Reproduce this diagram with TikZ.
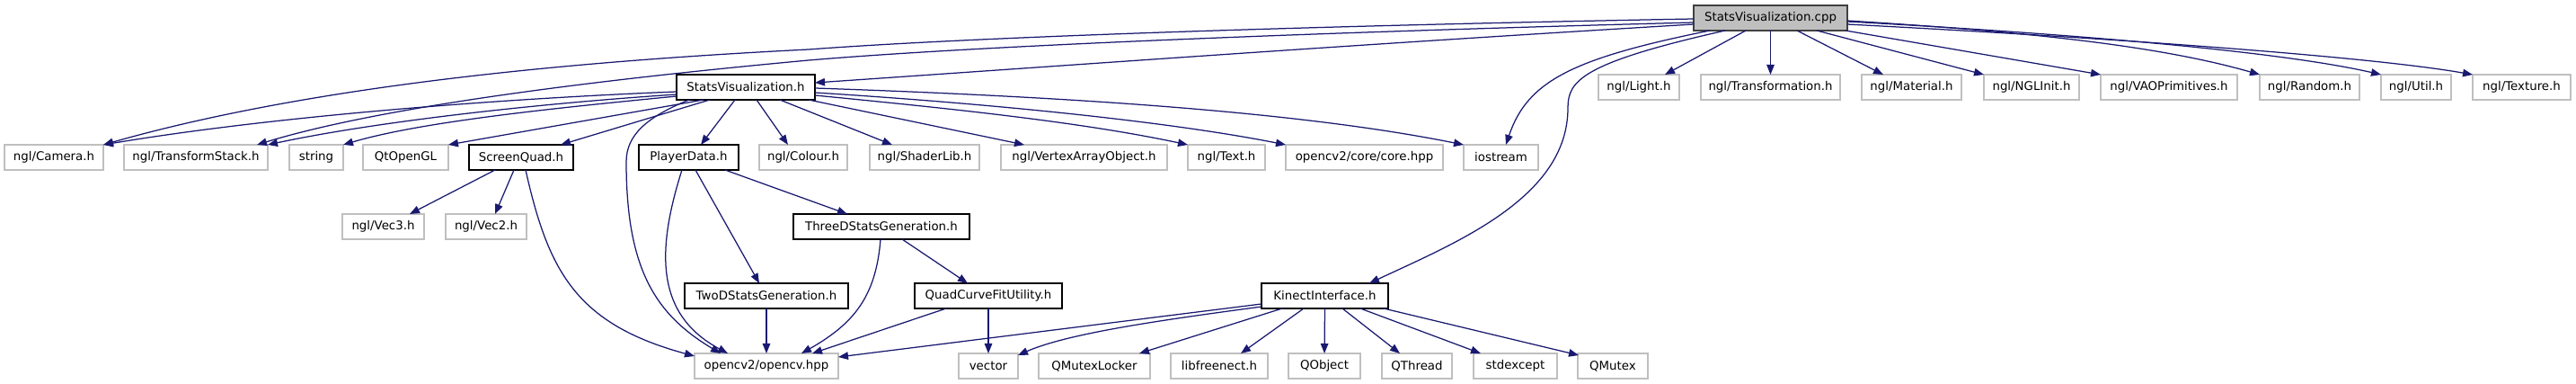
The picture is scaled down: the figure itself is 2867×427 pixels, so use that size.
\documentclass[tikz,border=0pt]{standalone}
\usepackage{fontspec}
\setmainfont{DejaVu Sans}
\usetikzlibrary{arrows.meta,calc}
\definecolor{edgeblue}{HTML}{191970}
\definecolor{extgray}{HTML}{BFBFBF}
\definecolor{cppfill}{HTML}{BFBFBF}
\definecolor{cppborder}{HTML}{404040}
\begin{document}
\begin{tikzpicture}[x=1pt,y=-1pt,
  box/.style={draw=black,line width=1.3pt,fill=white,minimum height=28pt,inner sep=0pt,outer sep=0pt,font=\fontsize{13.35}{16}\selectfont},
  extbox/.style={box,draw=extgray,line width=1.1pt},
  rootbox/.style={box,fill=cppfill,draw=cppborder},
  dep/.style={draw=edgeblue,line width=1.25pt,-{Triangle[length=11pt,width=8.5pt]}}]
\useasboundingbox (0,0) rectangle (2867,427);
% row 0
\node[rootbox,minimum width=171pt] (cpp) at (1970.5,20) {StatsVisualization.cpp};
% row 1
\node[box,minimum width=154pt] (svh) at (830,97) {StatsVisualization.h};
\node[extbox,minimum width=90pt] (light) at (1824,97) {ngl/Light.h};
\node[extbox,minimum width=155pt] (transf) at (1970.5,97) {ngl/Transformation.h};
\node[extbox,minimum width=111pt] (material) at (2127.5,97) {ngl/Material.h};
\node[extbox,minimum width=106pt] (nglinit) at (2261,97) {ngl/NGLInit.h};
\node[extbox,minimum width=152pt] (vaoprim) at (2414,97) {ngl/VAOPrimitives.h};
\node[extbox,minimum width=111pt] (random) at (2570.5,97) {ngl/Random.h};
\node[extbox,minimum width=78pt] (util) at (2689,97) {ngl/Util.h};
\node[extbox,minimum width=109pt] (texture) at (2806.5,97) {ngl/Texture.h};
% row 2
\node[extbox,minimum width=110pt] (camera) at (60,175) {ngl/Camera.h};
\node[extbox,minimum width=160pt] (tstack) at (218,175) {ngl/TransformStack.h};
\node[extbox,minimum width=60pt] (string) at (352,175) {string};
\node[extbox,minimum width=95pt] (qtopengl) at (451.5,175) {QtOpenGL};
\node[box,minimum width=116pt] (screenquad) at (580,175) {ScreenQuad.h};
\node[box,minimum width=111pt] (playerdata) at (766.5,175) {PlayerData.h};
\node[extbox,minimum width=98pt] (colour) at (894,175) {ngl/Colour.h};
\node[extbox,minimum width=122pt] (shaderlib) at (1029,175) {ngl/ShaderLib.h};
\node[extbox,minimum width=185pt] (vertexao) at (1206.5,175) {ngl/VertexArrayObject.h};
\node[extbox,minimum width=86pt] (text) at (1365,175) {ngl/Text.h};
\node[extbox,minimum width=175pt] (core) at (1518.5,175) {opencv2/core/core.hpp};
\node[extbox,minimum width=83pt] (iostream) at (1670.5,175) {iostream};
% row 3
\node[extbox,minimum width=91pt] (vec3) at (426.5,252) {ngl/Vec3.h};
\node[extbox,minimum width=90pt] (vec2) at (541,252) {ngl/Vec2.h};
\node[box,minimum width=196pt] (threed) at (981,252) {ThreeDStatsGeneration.h};
% row 4
\node[box,minimum width=182pt] (twod) at (853,329) {TwoDStatsGeneration.h};
\node[box,minimum width=164pt] (quad) at (1100,329) {QuadCurveFitUtility.h};
\node[box,minimum width=141pt] (kinect) at (1474.5,329) {KinectInterface.h};
% row 5
\node[extbox,minimum width=160pt] (opencv) at (853,407) {opencv2/opencv.hpp};
\node[extbox,minimum width=66pt] (vector) at (1100,407) {vector};
\node[extbox,minimum width=124pt] (qmutexlocker) at (1218,407) {QMutexLocker};
\node[extbox,minimum width=108pt] (libfreenect) at (1357,407) {libfreenect.h};
\node[extbox,minimum width=80pt] (qobject) at (1474,407) {QObject};
\node[extbox,minimum width=78pt] (qthread) at (1577,407) {QThread};
\node[extbox,minimum width=93pt] (stdexcept) at (1686.5,407) {stdexcept};
\node[extbox,minimum width=78pt] (qmutex) at (1795,407) {QMutex};

% edges from StatsVisualization.cpp
\draw[dep] ($(cpp.north west)+(0,15)$) .. controls (1500,28) and (1100,40) .. (900,55)
  .. controls (600,70) and (330,100) .. (camera.north east);
\draw[dep] ($(cpp.north west)+(0,19)$) .. controls (1500,35) and (1100,50) .. (900,67)
  .. controls (650,90) and (420,120) .. ($(tstack.north east)+(-12,0)$);
\draw[dep] ($(cpp.north west)+(0,21)$) .. controls (1500,50) and (1200,72) .. ($(svh.north east)+(0,9)$);
\draw[dep] ($(cpp.south west)+(18,0)$) .. controls (1750,65) and (1700,90) .. ($(iostream.north west)+(47,0)$);
\draw[dep] ($(cpp.south west)+(35,0)$) .. controls (1760,70) and (1745,90) .. (1745,120)
  .. controls (1745,220) and (1620,270) .. ($(kinect.north west)+(120,0)$);
\draw[dep] ($(cpp.south west)+(58,0)$) -- ($(light.north west)+(74,0)$);
\draw[dep] (cpp.south) -- (transf.north);
\draw[dep] ($(cpp.south west)+(115,0)$) -- ($(material.north west)+(24,0)$);
\draw[dep] ($(cpp.south west)+(137,0)$) -- (nglinit.north west);
\draw[dep] ($(cpp.south east)+(-2,0)$) -- (vaoprim.north west);
\draw[dep] ($(cpp.north east)+(0,17)$) .. controls (2250,35) and (2400,50) .. (random.north west);
\draw[dep] ($(cpp.north east)+(0,18)$) .. controls (2350,40) and (2550,60) .. (util.north west);
\draw[dep] ($(cpp.north east)+(0,21)$) .. controls (2400,45) and (2650,65) .. (texture.north west);

% edges from StatsVisualization.h
\draw[dep] ($(svh.north west)+(0,19)$) .. controls (550,110) and (300,130) .. (camera.north east);
\draw[dep] ($(svh.north west)+(0,22)$) .. controls (600,115) and (420,135) .. (tstack.north east);
\draw[dep] ($(svh.north west)+(0,24)$) .. controls (620,120) and (470,135) .. (string.north east);
\draw[dep] ($(svh.south west)+(30,0)$) -- (qtopengl.north east);
\draw[dep] ($(svh.south west)+(37,0)$) -- ($(screenquad.north west)+(102,0)$);
\draw[dep] ($(svh.south west)+(14,0)$) .. controls (720,130) and (697,150) .. (697,180)
  .. controls (697,300) and (730,350) .. ($(opencv.north west)+(29,0)$);
\draw[dep] ($(svh.south west)+(65,0)$) -- ($(playerdata.north west)+(69,0)$);
\draw[dep] ($(svh.south west)+(89,0)$) -- ($(colour.north west)+(32,0)$);
\draw[dep] ($(svh.south west)+(115,0)$) -- ($(shaderlib.north west)+(25,0)$);
\draw[dep] ($(svh.south west)+(147,0)$) -- ($(vertexao.north west)+(26,0)$);
\draw[dep] ($(svh.north east)+(0,23)$) .. controls (1050,120) and (1200,135) .. (text.north west);
\draw[dep] ($(svh.north east)+(0,20)$) .. controls (1100,115) and (1300,135) .. (core.north west);
\draw[dep] ($(svh.north east)+(0,15)$) .. controls (1200,108) and (1450,125) .. (iostream.north west);

% lower edges
\draw[dep] ($(screenquad.south west)+(29,0)$) -- ($(vec3.north west)+(75,0)$);
\draw[dep] ($(screenquad.south west)+(50,0)$) -- ($(vec2.north west)+(55,0)$);
\draw[dep] ($(screenquad.south west)+(63,0)$) .. controls (610,300) and (640,360) .. ($(opencv.north west)+(0,3)$);
\draw[dep] ($(playerdata.south west)+(48,0)$) .. controls (730,280) and (730,350) .. ($(opencv.north west)+(37,0)$);
\draw[dep] ($(playerdata.south west)+(63,0)$) -- ($(twod.north west)+(83,0)$);
\draw[dep] ($(playerdata.south west)+(96,0)$) -- ($(threed.north west)+(60,0)$);
\draw[dep] (twod.south) -- (opencv.north);
\draw[dep] ($(threed.south west)+(97,0)$) .. controls (975,330) and (950,360) .. ($(opencv.north west)+(119,0)$);
\draw[dep] ($(threed.south west)+(121,0)$) -- ($(quad.north west)+(59,0)$);
\draw[dep] ($(quad.south west)+(35,0)$) -- ($(opencv.north west)+(131,0)$);
\draw[dep] (quad.south) -- (vector.north);
\draw[dep] ($(kinect.north west)+(0,23)$) -- ($(opencv.north east)+(0,4)$);
\draw[dep] ($(kinect.north west)+(0,26)$) .. controls (1300,355) and (1190,370) .. ($(vector.north east)+(0,2)$);
\draw[dep] ($(kinect.south west)+(23,0)$) -- ($(qmutexlocker.north west)+(112,0)$);
\draw[dep] ($(kinect.south west)+(47,0)$) -- ($(libfreenect.north west)+(78,0)$);
\draw[dep] (kinect.south) -- (qobject.north);
\draw[dep] ($(kinect.south west)+(90,0)$) -- ($(qthread.north west)+(20,0)$);
\draw[dep] ($(kinect.south west)+(110,0)$) -- ($(stdexcept.north west)+(8,0)$);
\draw[dep] ($(kinect.south west)+(136,0)$) -- ($(qmutex.north west)+(1,2)$);
\end{tikzpicture}
\end{document}
